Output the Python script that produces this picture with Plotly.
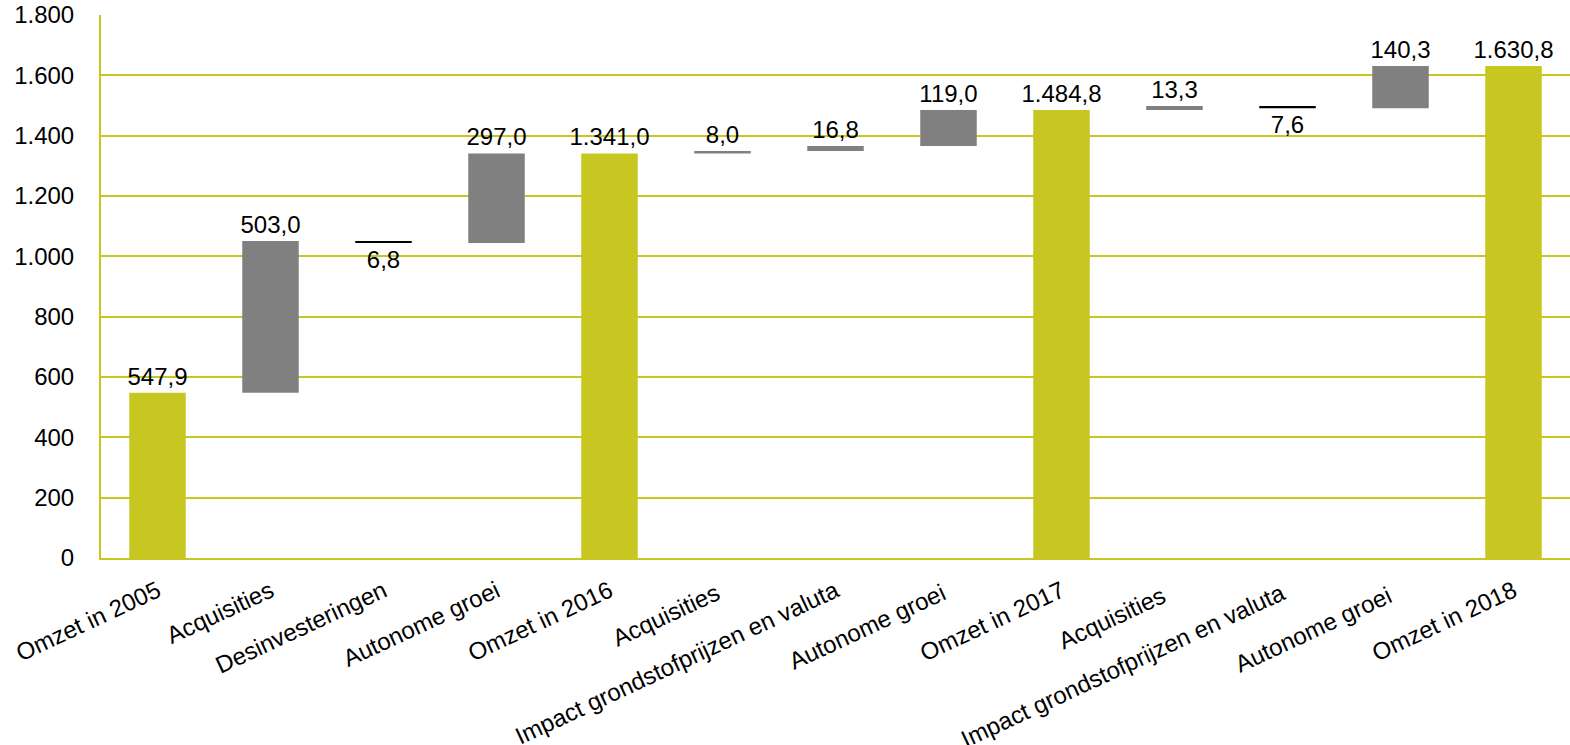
import plotly.graph_objects as go

categories = ["Omzet in 2005", "Acquisities", "Desinvesteringen", "Autonome groei",
              "Omzet in 2016", "Acquisities ", "Impact grondstofprijzen en valuta",
              "Autonome groei ", "Omzet in 2017", "Acquisities  ",
              "Impact grondstofprijzen en valuta ", "Autonome groei  ", "Omzet in 2018"]
kinds = ["total", "delta", "delta", "delta", "total", "delta", "delta", "delta",
         "total", "delta", "delta", "delta", "total"]
values = [547.9, 503.0, -6.8, 297.0, 1341.0, 8.0, 16.8, 119.0, 1484.8, 13.3, -7.6, 140.3, 1630.8]
y_ticks = [0, 200, 400, 600, 800, 1000, 1200, 1400, 1600, 1800]

TOTAL_C = "#C8C621"
UP_C = "#808080"
DOWN_C = "#000000"
GRID_C = "#C8C621"

bases, heights, colors, texts = [], [], [], []
running = 0.0
for k, v in zip(kinds, values):
    if k == "total":
        bases.append(0)
        heights.append(v)
        colors.append(TOTAL_C)
        running = v
    else:
        bases.append(running)
        heights.append(v)
        colors.append(UP_C if v >= 0 else DOWN_C)
        running += v
    s = f"{abs(v):,.1f}".replace(",", "X").replace(".", ",").replace("X", ".")
    texts.append(s)

fig = go.Figure(go.Bar(
    x=categories, y=heights, base=bases,
    marker=dict(color=colors, line=dict(width=0)),
    text=texts, textposition="outside", cliponaxis=False,
    textfont=dict(family="Liberation Sans, Arial", size=24, color="black"),
    hoverinfo="skip",
))

fig.update_layout(
    width=1570, height=745,
    margin=dict(l=101, r=0, t=15, b=187),
    plot_bgcolor="white", paper_bgcolor="white",
    bargap=0.5, showlegend=False,
    separators=",.",
    font=dict(family="Liberation Sans, Arial", size=24, color="black"),
    uniformtext=dict(mode="show", minsize=24),
)
fig.update_xaxes(
    tickangle=-25, showline=True, linecolor=GRID_C, linewidth=2,
    showgrid=False, ticks="", tickfont=dict(size=24), automargin=False,
    ticklabeloverflow="allow", ticklabelstandoff=8,
)
fig.update_yaxes(
    range=[0, 1800], tickvals=y_ticks, tickformat=",d",
    showgrid=True, gridcolor=GRID_C, gridwidth=2,
    showline=True, linecolor=GRID_C, linewidth=2,
    zeroline=False, ticks="", ticklabelstandoff=20,
    tickfont=dict(size=24), automargin=False,
    ticklabeloverflow="allow",
)

fig.write_html(
    "out.html",
    config={"displayModeBar": False},
    post_script="document.body.style.margin='0';document.body.style.overflow='hidden';",
)
